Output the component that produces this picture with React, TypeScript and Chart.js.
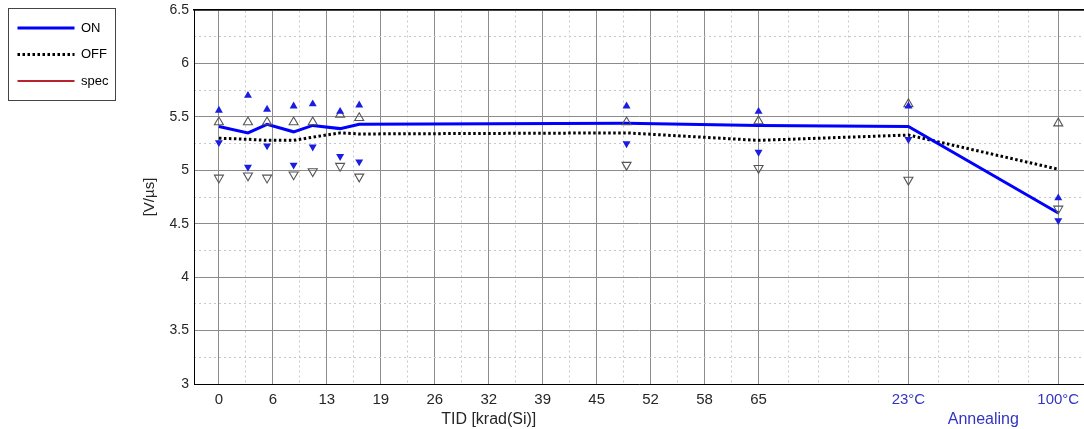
import React, { useEffect, useRef } from 'react';
import { Chart, registerables } from 'chart.js';

Chart.register(...registerables);
Chart.defaults.font.family = '"Liberation Sans", Arial, Helvetica, sans-serif';

// ---- data ----
const tidPositions = [0, 3.5, 5.8, 9, 11.3, 14.6, 16.9, 49.1, 65, 83.05, 101.1];
const onMean = [5.41, 5.35, 5.43, 5.36, 5.42, 5.39, 5.43, 5.44, 5.42, 5.41, 4.6];
const offMean = [5.3, 5.29, 5.28, 5.28, 5.31, 5.35, 5.34, 5.35, 5.28, 5.33, 5.01];
const onMax = [5.56, 5.7, 5.57, 5.6, 5.62, 5.55, 5.61, 5.6, 5.55, 5.6, 4.74];
const onMin = [5.26, 5.03, 5.23, 5.05, 5.22, 5.13, 5.08, 5.25, 5.17, 5.29, 4.53];
const offMax = [5.45, 5.45, 5.45, 5.45, 5.45, 5.52, 5.49, 5.45, 5.46, 5.62, 5.44];
const offMin = [4.93, 4.95, 4.93, 4.96, 4.99, 5.04, 4.94, 5.05, 5.02, 4.91, 4.64];
const specValues: { x: number; y: number }[] = [];

const xMajorTicks = [0, 6.5, 13, 19.5, 26, 32.5, 39, 45.5, 52, 58.5, 65, 83.05, 101.1];
const xTickLabels = ['0', '6', '13', '19', '26', '32', '39', '45', '52', '58', '65', '23°C', '100°C'];
const xMinorTicks = [3.25, 9.75, 16.25, 22.75, 29.25, 35.75, 42.25, 48.75, 55.25, 61.75, 68.61, 72.22, 75.83, 79.44, 86.66, 90.27, 93.88, 97.49];
const yMajorTicks = [3, 3.5, 4, 4.5, 5, 5.5, 6, 6.5];
const yMinorTicks = [3.25, 3.75, 4.25, 4.75, 5.25, 5.75, 6.25];
const X_MIN = -3;
const X_MAX = 104.2;
const Y_MIN = 3;
const Y_MAX = 6.5;
const xAxisTitle = 'TID [krad(Si)]';
const annealTitle = 'Annealing';
const yAxisTitle = '[V/µs]';

const BLUE_TEXT = '#3434c2';
const TEXT = '#262626';
const MAJOR_GRID = '#8c8c8c';
const MINOR_GRID = '#c8c8c8';

const pts = (ys: number[]) => tidPositions.map((x, i) => ({ x, y: ys[i] }));

const extrasPlugin = {
  id: 'extras',
  afterDraw(chart: any) {
    const ctx = chart.ctx;
    const leg = chart.legend;
    const hb = leg && leg.legendHitBoxes;
    ctx.save();
    if (hb && hb.length) {
      const last = hb[hb.length - 1];
      const x0 = Math.round(leg.left + 4) + 0.5;
      const x1 = Math.round(leg.left + leg.width - 1) + 0.5;
      const y0 = Math.round(leg.top) + 0.5;
      const y1 = Math.round(last.top + last.height + 12.5) + 0.5;
      ctx.strokeStyle = '#444';
      ctx.lineWidth = 1;
      ctx.strokeRect(x0, y0, x1 - x0, y1 - y0);
    }
    const xs = chart.scales.x;
    ctx.font = '16px "Liberation Sans", Arial, sans-serif';
    ctx.textAlign = 'center';
    ctx.textBaseline = 'middle';
    ctx.fillStyle = TEXT;
    ctx.fillText(xAxisTitle, xs.getPixelForValue((xMajorTicks[0] + xMajorTicks[10]) / 2), xs.top + 36);
    ctx.fillStyle = BLUE_TEXT;
    ctx.fillText(annealTitle, xs.getPixelForValue((xMajorTicks[11] + xMajorTicks[12]) / 2), xs.top + 36);
    ctx.restore();
  },
};

const noPad = (s: any) => {
  s.paddingLeft = 0;
  s.paddingRight = 0;
  s.paddingTop = 0;
  s.paddingBottom = 0;
};

export default function App() {
  const ref = useRef<HTMLCanvasElement | null>(null);

  useEffect(() => {
    if (!ref.current) return;
    const markerBase = { showLine: false, pointStyle: 'triangle', order: -1 } as any;
    const chart = new Chart(ref.current, {
      type: 'line',
      data: {
        datasets: [
          { label: 'ON', data: pts(onMean), borderColor: '#0000ff', backgroundColor: '#0000ff', borderWidth: 3, pointRadius: 0, tension: 0, fill: false },
          { label: 'OFF', data: pts(offMean), borderColor: '#000000', backgroundColor: '#000000', borderWidth: 3, borderDash: [2.5, 2.5], pointRadius: 0, tension: 0, fill: false },
          { label: 'spec', data: specValues, borderColor: '#b8232f', backgroundColor: '#b8232f', borderWidth: 2, pointRadius: 0, fill: false },
          { ...markerBase, label: 'ON max', data: pts(onMax), pointRadius: 4.6, pointRotation: 0, pointBackgroundColor: '#1c1ce0', pointBorderColor: '#1c1ce0', pointBorderWidth: 0 },
          { ...markerBase, label: 'ON min', data: pts(onMin), pointRadius: 4.6, pointRotation: 180, pointBackgroundColor: '#1c1ce0', pointBorderColor: '#1c1ce0', pointBorderWidth: 0 },
          { ...markerBase, label: 'OFF max', data: pts(offMax), pointRadius: 5.2, pointRotation: 0, pointBackgroundColor: 'rgba(255,255,255,0)', pointBorderColor: '#555555', pointBorderWidth: 1.1 },
          { ...markerBase, label: 'OFF min', data: pts(offMin), pointRadius: 5.2, pointRotation: 180, pointBackgroundColor: 'rgba(255,255,255,0)', pointBorderColor: '#555555', pointBorderWidth: 1.1 },
        ],
      },
      options: {
        responsive: false,
        animation: false,
        events: [],
        layout: { autoPadding: false, padding: { left: 4, top: 8, right: 0, bottom: 0 } },
        plugins: {
          title: { display: false },
          tooltip: { enabled: false },
          legend: {
            position: 'left',
            align: 'start',
            maxWidth: 112,
            labels: {
              usePointStyle: true,
              pointStyle: 'line',
              pointStyleWidth: 57,
              padding: 13.5,
              color: '#000',
              font: { size: 13 },
              generateLabels: (c: any) => {
                const items = (Chart.defaults.plugins.legend.labels as any).generateLabels(c);
                items.forEach((it: any) => {
                  const ds: any = c.data.datasets[it.datasetIndex];
                  it.lineDash = ds.borderDash || [];
                  it.lineWidth = ds.borderWidth;
                  it.strokeStyle = ds.borderColor;
                  it.pointStyle = 'line';
                });
                return items;
              },
              filter: (item: any) => item.datasetIndex < 3,
            },
          },
        },
        scales: {
          x: {
            type: 'linear',
            position: 'bottom',
            min: X_MIN,
            max: X_MAX,
            afterBuildTicks: (s: any) => { s.ticks = xMajorTicks.map((v) => ({ value: v })); },
            ticks: {
              autoSkip: false,
              maxRotation: 0,
              padding: 0,
              font: { size: 15 },
              color: (c: any) => (c.index >= 11 ? BLUE_TEXT : TEXT),
              callback: (_v: any, i: number) => xTickLabels[i],
            },
            grid: { color: MAJOR_GRID, lineWidth: 1, drawTicks: true, tickLength: 7, tickColor: 'rgba(0,0,0,0)' },
            border: { color: '#000', width: 1 },
            afterFit: (s: any) => { s.height = 45; noPad(s); },
          },
          xMinor: {
            type: 'linear',
            position: 'top',
            min: X_MIN,
            max: X_MAX,
            afterBuildTicks: (s: any) => { s.ticks = xMinorTicks.map((v) => ({ value: v })); },
            ticks: { display: false },
            grid: { color: MINOR_GRID, lineWidth: 1, drawTicks: false },
            border: { color: '#000', width: 1.5, dash: [2, 3] },
            afterFit: (s: any) => { s.height = 2; noPad(s); },
          },
          y: {
            type: 'linear',
            position: 'left',
            min: Y_MIN,
            max: Y_MAX,
            afterBuildTicks: (s: any) => { s.ticks = yMajorTicks.map((v) => ({ value: v })); },
            ticks: { padding: 5, font: { size: 14 }, color: TEXT, callback: (v: any) => String(v) },
            grid: { color: MAJOR_GRID, lineWidth: 1, drawTicks: false },
            border: { color: '#000', width: 1 },
            title: { display: true, text: yAxisTitle, color: TEXT, font: { size: 15 }, padding: { top: 25, bottom: 0 } },
            afterFit: (s: any) => { s.width = 78; noPad(s); },
          },
          yMinor: {
            type: 'linear',
            position: 'right',
            min: Y_MIN,
            max: Y_MAX,
            afterBuildTicks: (s: any) => { s.ticks = yMinorTicks.map((v) => ({ value: v })); },
            ticks: { display: false },
            grid: { color: MINOR_GRID, lineWidth: 1, drawTicks: false },
            border: { display: false, dash: [2, 3] },
            afterFit: (s: any) => { s.width = 0; noPad(s); },
          },
        },
      } as any,
      plugins: [extrasPlugin],
    });
    return () => chart.destroy();
  }, []);

  return (
    <div style={{ position: 'fixed', left: 0, top: 0, width: 1084, height: 429, background: '#fff' }}>
      <canvas ref={ref} width={1084} height={429} style={{ width: 1084, height: 429, display: 'block' }} />
    </div>
  );
}
